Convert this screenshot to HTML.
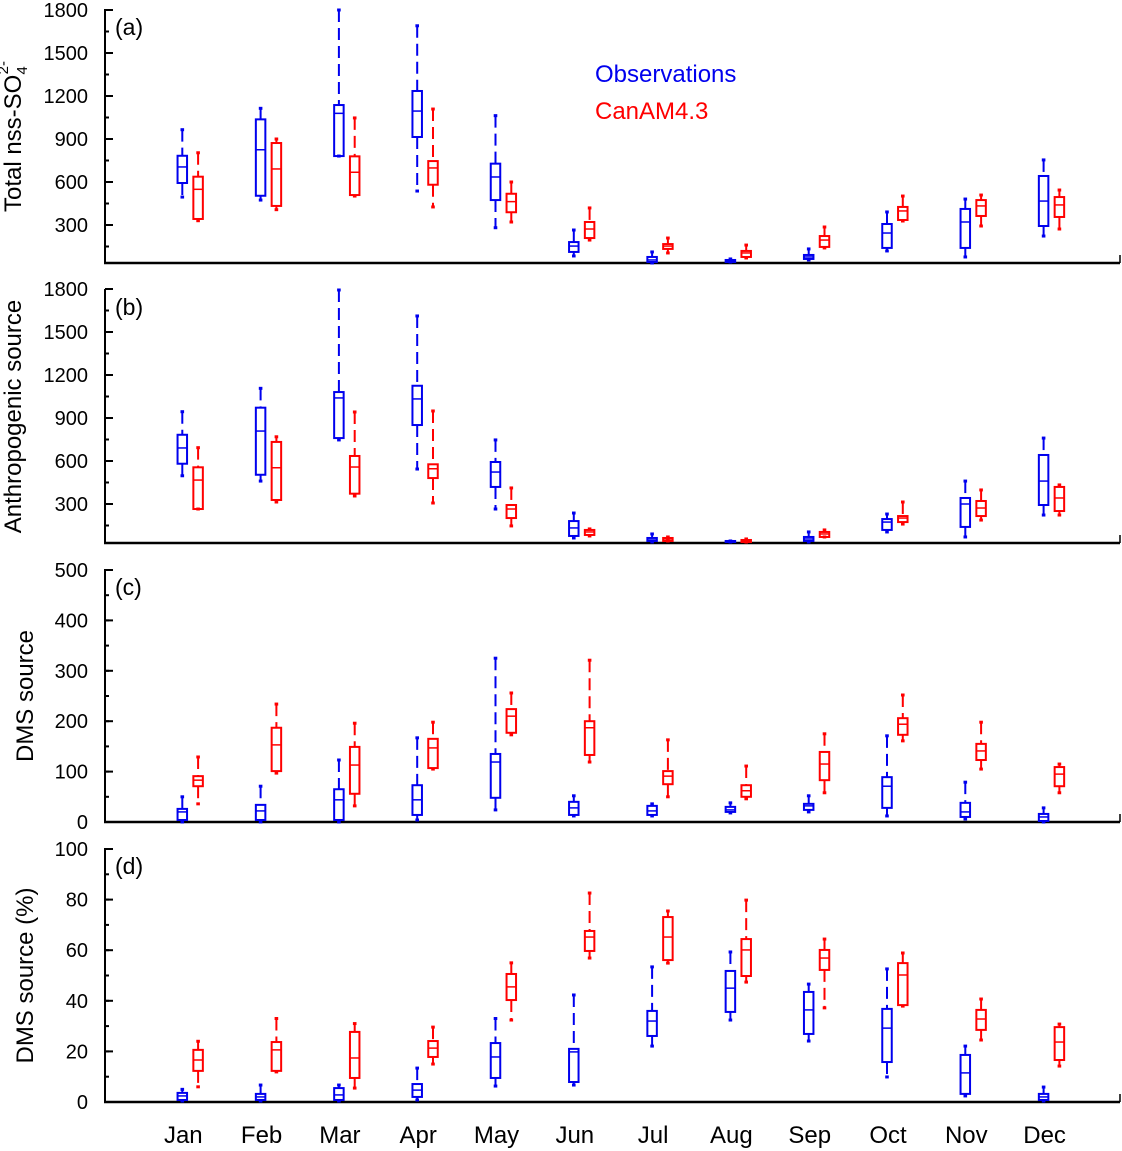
<!DOCTYPE html>
<html><head><meta charset="utf-8"><style>
body{margin:0;background:#fff}
svg{display:block;font-family:"Liberation Sans",sans-serif}
</style></head><body>
<svg id="chart" width="1122" height="1151" xmlns="http://www.w3.org/2000/svg"></svg>
<script>
const months=["Jan","Feb","Mar","Apr","May","Jun","Jul","Aug","Sep","Oct","Nov","Dec"];
// each box: [min,q1,median,q3,max]
const aObs=[[495,593,705,783,965],[474,504,825,1037,1114],[781,781,1079,1137,1800],[537,914,1095,1235,1690],[281,474,635,728,1063],[84,112,153,181,265],[35,42,56,77,112],[42,42,49,56,63],[56,63,77,91,133],[119,140,244,307,391],[77,140,321,412,481],[223,293,467,642,754]];
const aMod=[[330,342,549,637,804],[407,433,691,872,900],[502,509,668,779,1047],[426,581,698,746,1109],[321,389,463,518,600],[195,209,272,321,419],[105,133,153,167,209],[70,77,105,119,160],[140,147,195,223,286],[328,335,398,426,502],[293,363,433,474,509],[272,356,440,495,544]];
const bObs=[[497,581,691,783,944],[460,504,809,972,1107],[747,760,1040,1081,1793],[544,851,1033,1125,1612],[265,419,523,593,747],[63,77,133,181,237],[35,42,49,63,91],[35,35,38,42,42],[35,42,56,70,105],[105,119,174,195,230],[70,140,300,342,460],[223,293,460,642,760]];
const bMod=[[265,265,467,556,693],[314,328,553,733,769],[356,372,558,635,942],[307,481,546,577,949],[147,202,265,293,412],[77,84,105,119,126],[42,42,56,63,70],[35,35,42,49,56],[70,70,91,105,119],[160,174,202,216,314],[188,216,272,321,398],[223,251,342,419,433]];
const cObs=[[0,4,20,26,50],[0,4,22,34,71],[0,4,44,65,123],[4,14,44,73,167],[24,48,119,135,325],[12,14,28,40,52],[12,14,22,32,36],[18,20,24,30,38],[20,24,32,36,52],[12,28,71,89,171],[6,10,20,38,79],[0,2,10,16,28]];
const cMod=[[36,71,83,91,129],[97,101,153,187,234],[32,56,113,149,196],[105,107,147,165,198],[173,177,210,224,256],[119,133,187,200,321],[50,75,91,101,163],[46,50,62,73,111],[58,83,115,139,175],[161,173,194,206,252],[105,123,141,155,198],[58,71,95,109,115]];
const dObs=[[0.4,0.8,2.4,3.6,5],[0.4,0.8,2,3.2,6.7],[0.4,0.8,2.8,5.5,6.7],[0.8,2,4.7,7.1,13.4],[6.3,9.5,17.8,23.3,33],[6.7,7.9,19.8,21,42.3],[22.1,26.1,32,36,53.4],[32.4,35.6,45,51.8,59.3],[24.1,26.9,36.4,43.5,46.6],[9.9,15.8,29.2,36.8,52.6],[2.4,3.2,11.5,18.6,22.1],[0.4,0.8,2,3.2,5.9]];
const dMod=[[6,12.3,16.6,20.6,24],[11.9,12.3,20.6,23.7,33],[5.5,9.5,17.4,27.7,31],[15,17.8,21.3,24.1,29.6],[32.4,40.3,45.5,50.6,55],[56.9,59.7,65.2,67.6,82.6],[54.9,56.1,65.2,73.1,75.5],[47.4,49.8,60.1,64.4,79.8],[37.2,52.2,56.9,60.1,64.4],[37.9,38.3,50.2,54.9,58.9],[24.5,28.5,32.8,36.4,40.7],[14.2,16.6,23.7,29.6,30.8]];
const aTicks=[300,600,900,1200,1500,1800];
const cTicks=[0,100,200,300,400,500];
const dTicks=[0,20,40,60,80,100];

const svg=document.getElementById('chart');
const NS="http://www.w3.org/2000/svg";
function mk(tag,attrs,parent){const e=document.createElementNS(NS,tag);for(const k in attrs)e.setAttribute(k,attrs[k]);(parent||svg).appendChild(e);return e;}
const X0=105,X1=1120;
function xMonth(i){return 182.3+78.3*i;}
const panels=[
 {id:'a',label:'(a)',obs:aObs,mod:aMod,ticks:aTicks,minor:150,zeroY:268,scale:0.14333,top:10,bot:263,title:'Total nss-SO',sub:true},
 {id:'b',label:'(b)',obs:bObs,mod:bMod,ticks:aTicks,minor:150,zeroY:547,scale:0.14333,top:290,bot:543,title:'Anthropogenic source'},
 {id:'c',label:'(c)',obs:cObs,mod:cMod,ticks:cTicks,minor:50,zeroY:822,scale:0.504,top:570,bot:822,title:'DMS source'},
 {id:'d',label:'(d)',obs:dObs,mod:dMod,ticks:dTicks,minor:10,zeroY:1102,scale:2.53,top:849,bot:1102,title:'DMS source (%)'}
];
panels.forEach(p=>{
 const g=mk('g',{});
 
 
 const y=v=>p.zeroY-v*p.scale;
 const ax=mk('line',{x1:X0,y1:p.top-1,x2:X0,y2:p.bot+1,stroke:'#000','stroke-width':2},g);
 
 
 const bx=mk('line',{x1:X0-1,y1:p.bot,x2:X1,y2:p.bot,stroke:'#000','stroke-width':2.5},g);
 
 
 mk('line',{x1:X1,y1:p.bot-8,x2:X1,y2:p.bot,stroke:'#000','stroke-width':1.5},g);
 const maxT=p.ticks[p.ticks.length-1];
 for(let v=0;v<=maxT+0.001;v+=p.minor){const yy=y(v);if(yy>p.bot+0.5)continue;mk('line',{x1:X0,y1:yy,x2:X0+4,y2:yy,stroke:'#000','stroke-width':2},g);}
 p.ticks.forEach(t=>{const yy=y(t);mk('line',{x1:X0,y1:yy,x2:X0+8,y2:yy,stroke:'#000','stroke-width':2},g);
  const tx=mk('text',{x:88,y:yy+7,'text-anchor':'end','font-size':20},g);tx.textContent=t;
  
  });
 const pl=mk('text',{x:115,y:p.top+25,'font-size':23},g);pl.textContent=p.label;
 
 
 const cy=(p.top+p.bot)/2;
 const tt=mk('text',{x:0,y:0,'text-anchor':'middle','font-size':24,transform:`translate(${p.id==='a'||p.id==='b'?21:33},${cy}) rotate(-90)`},g);
 
 
 if(p.sub){tt.textContent='Total nss-SO';const t1=mk('tspan',{'font-size':15,dy:6},tt);t1.textContent='4';const t2=mk('tspan',{'font-size':15,dy:-19,dx:-8},tt);t2.textContent='2-';}
 else tt.textContent=p.title;
 [[p.obs,'#0000ee',0,'obs'],[p.mod,'#ff0000',15.8,'model']].forEach(([data,col,off,nm])=>{
  data.forEach((d,i)=>{
   const cx=xMonth(i)+off,w=9.5;
   const bg=mk('g',{stroke:col,fill:'none','stroke-width':2},g);
   
   
   mk('line',{x1:cx,y1:y(d[4]),x2:cx,y2:y(d[3]),'stroke-dasharray':'12,6'},bg);
   mk('line',{x1:cx,y1:y(d[1]),x2:cx,y2:y(d[0]),'stroke-dasharray':'12,6'},bg);
   mk('line',{x1:cx-1.8,y1:y(d[4]),x2:cx+1.8,y2:y(d[4]),'stroke-width':3},bg);
   mk('line',{x1:cx-1.8,y1:y(d[0]),x2:cx+1.8,y2:y(d[0]),'stroke-width':3},bg);
   mk('rect',{x:cx-w/2,y:y(d[3]),width:w,height:Math.max(1,y(d[1])-y(d[3]))},bg);
   mk('line',{x1:cx-w/2,y1:y(d[2]),x2:cx+w/2,y2:y(d[2]),'stroke-width':1.5},bg);
  });
 });
});
months.forEach((m,i)=>{const t=mk('text',{x:xMonth(i)+1,y:1143,'text-anchor':'middle','font-size':24});t.textContent=m;
 
 });
const l1=mk('text',{x:595,y:82,'font-size':24,fill:'#0000ee'});l1.textContent='Observations';


const l2=mk('text',{x:595,y:119,'font-size':24,fill:'#ff0000'});l2.textContent='CanAM4.3';


</script>
</body></html>
